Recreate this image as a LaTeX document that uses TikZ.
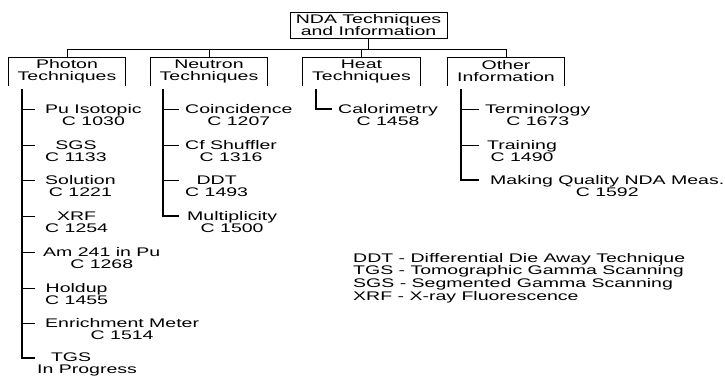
\documentclass[tikz,border=0pt]{standalone}
\usepackage{fontspec}
\setmainfont{Liberation Sans}[FakeStretch=1.56]
\begin{document}
\begin{tikzpicture}[x=1pt,y=-1pt,
  thinln/.style={line width=0.9pt},
  trunkln/.style={line width=1.6pt},
  boxtxt/.style={font=\fontsize{12.5}{12}\selectfont, inner sep=0pt, align=center},
  lbl/.style={font=\fontsize{12.5}{12}\selectfont, inner sep=0pt, align=center, anchor=north west},
  legend/.style={font=\fontsize{12.5}{11.6}\selectfont, inner sep=0pt, align=left, anchor=north west}]
\useasboundingbox (0,0) rectangle (725,375);

% top box
\node[boxtxt, draw, thinln, minimum width=157pt, minimum height=26pt] (nda) at (368.5,25) {NDA Techniques\\and Information};

% second level boxes (open at bottom)
\node[boxtxt, minimum width=116pt, minimum height=28pt] (ph) at (67,71.5) {Photon\\Techniques};
\node[boxtxt, minimum width=116pt, minimum height=28pt] (ne) at (209,71.5) {Neutron\\Techniques};
\node[boxtxt, minimum width=117pt, minimum height=28pt] (ht) at (361.5,71.5) {Heat\\Techniques};
\node[boxtxt, minimum width=116pt, minimum height=28pt] (ot) at (506,71.5) {Other\\Information};
\foreach \b in {ph,ne,ht,ot}{
  \draw[thinln] (\b.south west) |- (\b.north east) -- (\b.south east);
}

% bus
\coordinate (busL) at (67,49);
\coordinate (busR) at (506,49);
\draw[thinln] (nda.south) -- (nda.south |- busL);
\draw[thinln] (busL) -- (busR);
\foreach \b in {ph,ne,ht,ot}{
  \draw[thinln] (\b.north |- busL) -- (\b.north);
}

% photon column
\node[lbl] (p1) at (45,104.5) {Pu Isotopic\\C 1030};
\node[lbl] (p2) at (45,140.5) {SGS\\C 1133};
\node[lbl] (p3) at (45,175.5) {Solution\\C 1221};
\node[lbl] (p4) at (45,211.5) {XRF\\C 1254};
\node[lbl] (p5) at (43,247.5) {Am 241 in Pu\\C 1268};
\node[lbl] (p6) at (45,283.5) {Holdup\\C 1455};
\node[lbl] (p7) at (45,318.5) {Enrichment Meter\\C 1514};
\node[lbl] (p8) at (37,352.5) {TGS\hspace*{32pt}\\In Progress};
\draw[trunkln] (22,89) |- (35,358);
\foreach \y in {109,145,180,216,252,288,323}{
  \draw[thinln] (22,\y) -- (35,\y);
}

% neutron column
\node[lbl] (n1) at (185,104.5) {Coincidence\\C 1207};
\node[lbl] (n2) at (185,140.5) {Cf Shuffler\\C 1316};
\node[lbl] (n3) at (185,175.5) {DDT\\C 1493};
\node[lbl] (n4) at (187,211.5) {Multiplicity\\C 1500};
\draw[trunkln] (163,89) |- (179,216);
\foreach \y in {109,145,180}{
  \draw[thinln] (163,\y) -- (179,\y);
}

% heat column
\node[lbl] (h1) at (338,104.5) {Calorimetry\\C 1458};
\draw[trunkln] (316,89) |- (332,109);

% other column
\node[lbl] (o1) at (485,104.5) {Terminology\\C 1673};
\node[lbl] (o2) at (487,140.5) {Training\\C 1490};
\node[lbl] (o3) at (490,175.5) {Making Quality NDA Meas.\\C 1592};
\draw[trunkln] (461,89) |- (479,180);
\foreach \y in {109,145}{
  \draw[thinln] (461,\y) -- (479,\y);
}

% legend
\node[legend] (leg) at (353,253) {DDT - Differential Die Away Technique\\TGS - Tomographic Gamma Scanning\\SGS - Segmented Gamma Scanning\\XRF - X-ray Fluorescence};
\end{tikzpicture}
\end{document}
